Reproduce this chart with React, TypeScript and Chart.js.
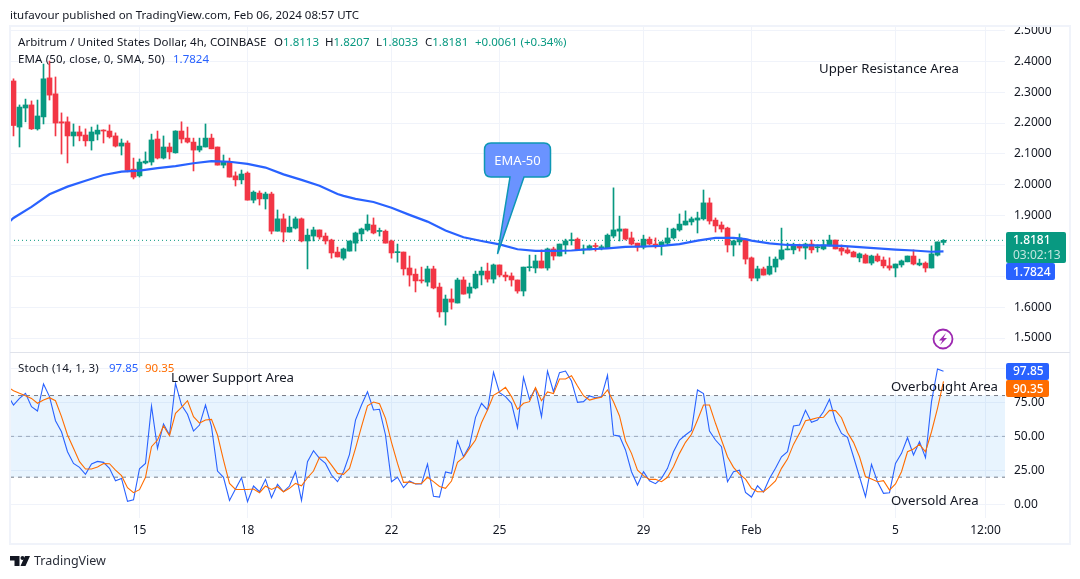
import { useRef, useEffect } from 'react';
import Chart from 'chart.js/auto';

const UP = '#089981';
const DOWN = '#f23645';
const FONT = "'Noto Sans', sans-serif";

// 4h candles, one entry per bar
const opens = [
  2.337, 2.187, 2.249, 2.259, 2.181, 2.220, 2.347, 2.295, 2.204, 2.204,
  2.158, 2.171, 2.161, 2.142, 2.164, 2.177, 2.174, 2.158, 2.125, 2.135,
  2.050, 2.028, 2.070, 2.073, 2.148, 2.086, 2.122, 2.103, 2.174, 2.151,
  2.138, 2.112, 2.122, 2.151, 2.122, 2.063, 2.073, 2.028, 2.015, 2.037,
  1.949, 1.972, 1.953, 1.969, 1.848, 1.888, 1.845, 1.858, 1.888, 1.816,
  1.832, 1.852, 1.832, 1.819, 1.780, 1.760, 1.783, 1.809, 1.839, 1.852,
  1.868, 1.847, 1.848, 1.816, 1.778, 1.780, 1.728, 1.708, 1.689, 1.682,
  1.725, 1.666, 1.585, 1.627, 1.614, 1.689, 1.646, 1.663, 1.705, 1.718,
  1.692, 1.738, 1.705, 1.702, 1.689, 1.653, 1.729, 1.728, 1.751, 1.728,
  1.790, 1.767, 1.803, 1.817, 1.822, 1.787, 1.787, 1.800, 1.794, 1.793,
  1.832, 1.848, 1.855, 1.826, 1.809, 1.796, 1.822, 1.806, 1.803, 1.809,
  1.826, 1.852, 1.868, 1.878, 1.884, 1.888, 1.940, 1.884, 1.868, 1.858,
  1.803, 1.813, 1.822, 1.761, 1.695, 1.725, 1.708, 1.731, 1.757, 1.787,
  1.787, 1.803, 1.793, 1.806, 1.794, 1.790, 1.800, 1.819, 1.793, 1.787,
  1.780, 1.761, 1.770, 1.744, 1.767, 1.754, 1.735, 1.728, 1.738, 1.748,
  1.767, 1.738, 1.744, 1.728, 1.770, 1.8113,
];
const highs = [
  2.344, 2.259, 2.278, 2.272, 2.275, 2.392, 2.402, 2.350, 2.233, 2.220,
  2.197, 2.190, 2.181, 2.187, 2.194, 2.178, 2.194, 2.168, 2.148, 2.142,
  2.086, 2.083, 2.106, 2.164, 2.174, 2.158, 2.135, 2.175, 2.204, 2.187,
  2.151, 2.151, 2.197, 2.164, 2.122, 2.096, 2.086, 2.041, 2.047, 2.041,
  1.979, 1.979, 1.975, 1.975, 1.917, 1.904, 1.897, 1.894, 1.891, 1.855,
  1.861, 1.852, 1.842, 1.822, 1.796, 1.793, 1.816, 1.845, 1.858, 1.901,
  1.891, 1.858, 1.852, 1.819, 1.806, 1.780, 1.767, 1.725, 1.731, 1.734,
  1.734, 1.679, 1.640, 1.660, 1.695, 1.699, 1.679, 1.718, 1.731, 1.744,
  1.741, 1.738, 1.715, 1.712, 1.689, 1.731, 1.770, 1.770, 1.787, 1.793,
  1.796, 1.806, 1.822, 1.842, 1.826, 1.803, 1.803, 1.809, 1.803, 1.839,
  1.989, 1.897, 1.855, 1.845, 1.809, 1.835, 1.829, 1.826, 1.813, 1.858,
  1.858, 1.904, 1.914, 1.894, 1.910, 1.982, 1.956, 1.891, 1.878, 1.861,
  1.819, 1.839, 1.822, 1.764, 1.734, 1.731, 1.764, 1.764, 1.858, 1.809,
  1.809, 1.806, 1.809, 1.819, 1.803, 1.819, 1.835, 1.819, 1.803, 1.796,
  1.783, 1.777, 1.774, 1.770, 1.774, 1.764, 1.761, 1.741, 1.754, 1.767,
  1.787, 1.757, 1.748, 1.800, 1.813, 1.8207,
];
const lows = [
  2.158, 2.122, 2.204, 2.179, 2.177, 2.197, 2.275, 2.158, 2.099, 2.070,
  2.125, 2.142, 2.125, 2.112, 2.145, 2.135, 2.151, 2.122, 2.096, 2.041,
  2.018, 2.024, 2.067, 2.063, 2.083, 2.083, 2.083, 2.102, 2.135, 2.135,
  2.044, 2.106, 2.122, 2.116, 2.063, 2.054, 2.024, 1.995, 2.002, 1.949,
  1.940, 1.933, 1.920, 1.839, 1.848, 1.813, 1.845, 1.855, 1.813, 1.725,
  1.816, 1.822, 1.806, 1.760, 1.764, 1.754, 1.783, 1.783, 1.816, 1.848,
  1.839, 1.832, 1.809, 1.760, 1.747, 1.705, 1.669, 1.650, 1.679, 1.669,
  1.660, 1.568, 1.542, 1.594, 1.614, 1.643, 1.630, 1.660, 1.673, 1.682,
  1.679, 1.699, 1.686, 1.669, 1.646, 1.637, 1.718, 1.712, 1.728, 1.721,
  1.754, 1.767, 1.774, 1.803, 1.787, 1.774, 1.787, 1.783, 1.787, 1.793,
  1.826, 1.816, 1.819, 1.803, 1.783, 1.790, 1.803, 1.793, 1.770, 1.803,
  1.822, 1.848, 1.868, 1.868, 1.842, 1.884, 1.871, 1.845, 1.845, 1.780,
  1.767, 1.803, 1.741, 1.686, 1.686, 1.705, 1.705, 1.715, 1.754, 1.787,
  1.774, 1.783, 1.757, 1.777, 1.780, 1.787, 1.800, 1.790, 1.770, 1.774,
  1.764, 1.748, 1.744, 1.738, 1.748, 1.728, 1.721, 1.699, 1.731, 1.748,
  1.738, 1.735, 1.715, 1.728, 1.767, 1.8033,
];
const closes = [
  2.192, 2.252, 2.259, 2.181, 2.223, 2.344, 2.291, 2.200, 2.200, 2.158,
  2.171, 2.158, 2.142, 2.171, 2.177, 2.174, 2.155, 2.125, 2.135, 2.046,
  2.024, 2.073, 2.076, 2.145, 2.086, 2.122, 2.106, 2.174, 2.148, 2.138,
  2.112, 2.125, 2.151, 2.116, 2.063, 2.073, 2.024, 2.015, 2.034, 1.949,
  1.975, 1.953, 1.969, 1.848, 1.888, 1.845, 1.861, 1.888, 1.816, 1.835,
  1.852, 1.829, 1.816, 1.777, 1.764, 1.790, 1.816, 1.842, 1.855, 1.871,
  1.842, 1.849, 1.809, 1.777, 1.780, 1.725, 1.705, 1.686, 1.686, 1.725,
  1.663, 1.585, 1.627, 1.617, 1.689, 1.643, 1.666, 1.708, 1.718, 1.692,
  1.738, 1.705, 1.699, 1.689, 1.653, 1.731, 1.731, 1.751, 1.728, 1.790,
  1.767, 1.806, 1.816, 1.819, 1.787, 1.789, 1.800, 1.798, 1.796, 1.835,
  1.852, 1.855, 1.822, 1.806, 1.796, 1.822, 1.806, 1.800, 1.813, 1.826,
  1.855, 1.871, 1.881, 1.888, 1.891, 1.940, 1.881, 1.865, 1.855, 1.803,
  1.816, 1.826, 1.757, 1.695, 1.725, 1.705, 1.734, 1.757, 1.787, 1.790,
  1.803, 1.793, 1.806, 1.787, 1.796, 1.803, 1.819, 1.790, 1.783, 1.777,
  1.764, 1.774, 1.744, 1.767, 1.751, 1.735, 1.728, 1.741, 1.751, 1.767,
  1.741, 1.744, 1.728, 1.774, 1.813, 1.8181,
];

// EMA 50, read every third bar
const emaBars = [
  -1, 0, 3, 6, 9, 12, 15, 18, 21, 24, 27, 30, 33, 36, 39, 42, 45, 48, 51, 54, 55, 57, 60, 63, 66, 69, 72,
  75, 78, 81, 84, 87, 90, 93, 96, 99, 102, 105, 108, 111, 114, 117, 120, 122, 123, 126, 129, 132, 135,
  138, 141, 144, 147, 150, 153, 155,
];
const emaValues = [
  1.873, 1.891, 1.927, 1.968, 1.993, 2.012, 2.031, 2.042, 2.045, 2.053, 2.060, 2.069, 2.076, 2.074, 2.067,
  2.055, 2.033, 2.015, 1.996, 1.969, 1.963, 1.953, 1.943, 1.924, 1.901, 1.879, 1.850, 1.828, 1.816, 1.805,
  1.789, 1.784, 1.784, 1.785, 1.789, 1.792, 1.797, 1.798, 1.800, 1.806, 1.817, 1.826, 1.826, 1.822, 1.817,
  1.808, 1.803, 1.802, 1.802, 1.800, 1.796, 1.792, 1.788, 1.785, 1.781, 1.7824,
];

// Stochastic, first entry is the bar just left of the pane edge
const stochK = [
  80.4, 73.0, 77.9, 81.6, 71.8, 68.6, 88.5, 79.2, 61.5, 53.4, 38.7, 30.1, 27.2, 22.1, 29.7, 31.6, 30.9, 26.5, 17.4, 19.1,
  2.2, 3.4, 26.2, 30.1, 72.3, 41.2, 59.1, 51.0, 89.0, 73.0, 66.2, 53.9, 58.3, 73.0, 57.1, 24.5, 19.9, 2.9, 11.3, 19.6,
  2.0, 13.5, 9.3, 18.4, 4.9, 14.7, 9.3, 13.5, 24.0, 2.9, 31.4, 39.5, 33.8, 30.1, 21.6, 16.7,
  24.0, 36.8, 62.0, 73.0, 82.8, 69.4, 69.9, 51.0, 16.7, 19.9, 12.3, 17.2, 15.0, 15.0, 29.7, 5.9, 5.4, 23.8, 22.8, 46.6,
  35.0, 43.1, 64.0, 74.3, 69.4, 97.1, 82.1, 79.2, 74.3, 56.4, 93.4, 77.2, 85.3, 64.5, 98.0, 82.8, 96.8, 98.0, 90.7, 75.0,
  75.5, 79.7, 78.4, 79.2, 94.9, 51.0, 50.2, 40.0, 24.0, 14.2, 24.0, 17.4, 15.2, 19.1, 26.5, 38.7, 47.3,
  51.0, 54.4, 84.1, 81.4, 53.9, 47.3, 42.4, 16.7, 24.0, 25.2, 8.8, 5.4, 13.7, 9.1, 19.1, 26.5, 35.0, 38.7, 57.6, 58.3,
  69.1, 60.3, 62.0, 68.1, 77.2, 61.3, 52.2, 49.3, 35.0, 20.3, 5.6, 29.4, 16.7, 8.1, 8.6, 30.1, 37.5, 49.0, 36.3, 46.1,
  34.3, 75.5, 99.5, 97.85,
];
const stochD = [
  86.5, 83.6, 81.6, 79.9, 77.9, 74.3, 76.7, 78.4, 76.2, 64.5, 51.0, 41.2, 31.4, 26.0, 26.0, 27.5, 30.1, 29.9, 25.2, 21.1,
  12.3, 8.6, 10.8, 19.9, 42.4, 47.3, 57.6, 50.5, 66.9, 71.3, 76.2, 64.5, 59.8, 62.0, 62.5, 51.0, 32.6, 15.4, 11.0, 11.0,
  11.0, 11.3, 8.6, 13.5, 11.0, 13.0, 9.3, 11.8, 15.4, 13.7, 19.6, 24.5, 34.6, 34.6, 28.9, 22.8,
  22.1, 26.5, 41.2, 57.1, 72.5, 75.2, 74.0, 63.2, 45.6, 30.1, 16.2, 16.4, 15.2, 15.4, 19.9, 16.7, 13.2, 11.8, 17.2, 30.9,
  34.6, 41.2, 47.3, 60.0, 69.4, 80.1, 82.8, 86.0, 79.2, 69.9, 74.3, 75.5, 85.8, 76.2, 82.6, 81.4, 92.2, 92.2, 94.6, 87.0,
  79.9, 76.7, 77.9, 78.7, 84.1, 75.5, 65.0, 46.6, 37.5, 25.2, 21.1, 18.4, 18.4, 16.7, 19.9, 27.7, 37.5,
  45.6, 51.5, 62.0, 73.0, 73.0, 59.6, 47.3, 35.0, 27.2, 22.3, 18.6, 11.8, 9.3, 9.3, 13.0, 17.2, 26.5, 33.3, 44.1, 52.2,
  61.5, 62.5, 63.7, 64.0, 69.1, 68.9, 63.7, 52.9, 45.6, 35.0, 20.3, 18.6, 16.7, 17.4, 10.5, 15.0, 24.0, 38.7, 40.7, 44.1,
  38.7, 53.4, 70.6, 90.35,
];

// time axis, bar index -> label
const timeTickBars = [21, 39, 63, 81, 105, 123, 147, 162];
const timeTickLabels = ['15', '18', '22', '25', '29', 'Feb', '5', '12:00'];

const priceTicks = [1.5, 1.6, 1.7, 1.8, 1.9, 2.0, 2.1, 2.2, 2.3, 2.4, 2.5];
const stochTicks = [0, 25, 50, 75, 100];

const xMin = -0.5833;
const xMax = 165.25;
const lastClose = closes[closes.length - 1];

function Label({ x, y, size = 11.5, color = '#131722', center = false, children, style }: any) {
  return (
    <div style={{
      position: 'absolute', left: x, top: y, fontFamily: FONT, fontSize: size, color, lineHeight: '16px',
      whiteSpace: 'pre', transform: center ? 'translate(-50%, -50%)' : 'translateY(-50%)', ...style,
    }}>{children}</div>
  );
}

function Tag({ x, y, w, h, bg }: any) {
  return <div style={{ position: 'absolute', left: x, top: y, width: w, height: h, background: bg, borderRadius: 2 }}></div>;
}

export default function App() {
  const canvasRef = useRef<HTMLCanvasElement>(null);

  useEffect(() => {
    document.body.style.margin = '0';
    if (!canvasRef.current) return;

    const colors = closes.map((c, i) => (c >= opens[i] ? UP : DOWN));
    const stochLine = (values: number[], color: string) => ({
      type: 'line', yAxisID: 'yS', order: 0, borderColor: color, borderWidth: 1.1, pointRadius: 0,
      data: values.map((v, i) => ({ x: i - 1, y: v })),
    });
    const level = (value: number, extra: any) => ({
      type: 'line', yAxisID: 'yS', order: 5, borderColor: '#787b86', borderWidth: 1, borderDash: [4, 4], pointRadius: 0,
      data: [{ x: xMin, y: value }, { x: xMax, y: value }], ...extra,
    });

    const frame = {
      id: 'frame',
      afterDraw(c: any) {
        const ctx = c.ctx;
        ctx.save();
        // the top price label is cut by the frame
        ctx.fillStyle = '#fff';
        ctx.fillRect(1006, 0, 74, 27);
        ctx.strokeStyle = '#f0f3fa';
        ctx.lineWidth = 2;
        ctx.strokeRect(10, 26, 1060, 518);
        ctx.strokeStyle = '#e0e3eb';
        ctx.lineWidth = 1;
        ctx.beginPath();
        ctx.moveTo(10, 352.5);
        ctx.lineTo(1070, 352.5);
        ctx.stroke();
        ctx.restore();
      },
    };

    const chart = new Chart(canvasRef.current, {
      type: 'bar',
      plugins: [frame],
      data: {
        datasets: [
          { type: 'line', yAxisID: 'y', order: 0, borderColor: '#2962ff', borderWidth: 2.2, pointRadius: 0,
            data: emaBars.map((b, i) => ({ x: b, y: emaValues[i] })) },
          { type: 'bar', yAxisID: 'y', order: 1, grouped: false, barThickness: 5, minBarLength: 1, backgroundColor: colors,
            data: opens.map((o, i) => ({ x: i, y: [o, closes[i]] })) },
          { type: 'bar', yAxisID: 'y', order: 2, grouped: false, barThickness: 1, backgroundColor: colors,
            data: lows.map((l, i) => ({ x: i, y: [l, highs[i]] })) },
          { type: 'line', yAxisID: 'y', order: 3, borderColor: UP, borderWidth: 1, borderDash: [1, 3], pointRadius: 0,
            data: [{ x: xMin, y: lastClose }, { x: xMax, y: lastClose }] },
          stochLine(stochD, '#ff6d00'),
          stochLine(stochK, '#2962ff'),
          level(80, { fill: { value: 20 }, backgroundColor: 'rgba(33,150,243,0.1)' }),
          level(50, { borderColor: 'rgba(120,123,134,0.6)' }),
          level(20, {}),
        ],
      } as any,
      options: {
        responsive: false,
        animation: false,
        events: [],
        layout: { autoPadding: false, padding: { left: 10, top: 26, right: 10, bottom: 35 } },
        plugins: { legend: { display: false }, tooltip: { enabled: false } },
        scales: {
          x: {
            type: 'linear', min: xMin, max: xMax, offset: false,
            grid: { color: '#f0f3fa', drawTicks: false, offset: false },
            border: { display: false },
            afterBuildTicks(scale: any) { scale.ticks = timeTickBars.map((v) => ({ value: v })); },
            afterFit(scale: any) { scale.height = 26; },
            ticks: {
              autoSkip: false, maxRotation: 0, padding: 5, color: '#131722', font: { family: FONT, size: 12 },
              callback: (v: any) => timeTickLabels[timeTickBars.indexOf(v)],
            },
          },
          y: {
            position: 'right', stack: 'panes', stackWeight: 326, min: 1.4545, max: 2.516,
            grid: { color: '#f0f3fa', drawTicks: false },
            border: { display: false },
            afterBuildTicks(scale: any) { scale.ticks = priceTicks.map((v) => ({ value: v })); },
            afterFit(scale: any) { scale.width = 65; },
            ticks: { autoSkip: false, padding: 9, color: '#131722', font: { family: FONT, size: 12 }, callback: (v: any) => Number(v).toFixed(4) },
          },
          yS: {
            position: 'right', stack: 'panes', stackWeight: 166, min: -10, max: 112,
            grid: { color: '#f0f3fa', drawTicks: false },
            border: { display: false },
            afterBuildTicks(scale: any) { scale.ticks = stochTicks.map((v) => ({ value: v })); },
            afterFit(scale: any) { scale.width = 65; },
            ticks: {
              autoSkip: false, padding: 9, color: '#131722', font: { family: FONT, size: 12 },
              // 100 sits under the K value tag
              callback: (v: any) => (v === 100 ? '' : Number(v).toFixed(2)),
            },
          },
        },
      } as any,
    });

    return () => {
      chart.destroy();
    };
  }, []);

  return (
    <div style={{ position: 'relative', width: 1080, height: 579, overflow: 'hidden', background: '#fff' }}>
      <canvas ref={canvasRef} width={1080} height={579} style={{ display: 'block' }}></canvas>

      <Label x={10} y={15}>itufavour published on TradingView.com, Feb 06, 2024 08:57 UTC</Label>

      <Label x={18} y={42} style={{ letterSpacing: 0.03 }}>Arbitrum / United States Dollar, 4h, COINBASE</Label>
      <Label x={274} y={42}>O<span style={{ color: UP }}>1.8113</span></Label>
      <Label x={325} y={42}>H<span style={{ color: UP }}>1.8207</span></Label>
      <Label x={376} y={42}>L<span style={{ color: UP }}>1.8033</span></Label>
      <Label x={425} y={42}>C<span style={{ color: UP }}>1.8181</span></Label>
      <Label x={475} y={42} color={UP}>+0.0061 (+0.34%)</Label>
      <Label x={18} y={59} style={{ letterSpacing: 0.15 }}>EMA (50, close, 0, SMA, 50)</Label>
      <Label x={173} y={59} color="#2962ff">1.7824</Label>
      <Label x={18} y={368} style={{ letterSpacing: 0.15 }}>Stoch (14, 1, 3)</Label>
      <Label x={109} y={368} color="#2962ff">97.85</Label>
      <Label x={145} y={368} color="#ff6d00">90.35</Label>

      <Label x={819} y={68} size={13.2}>Upper Resistance Area</Label>
      <Label x={171} y={377} size={13.2}>Lower Support Area</Label>
      <Label x={891} y={386} size={13.2}>Overbought Area</Label>
      <Label x={891} y={500} size={13.2}>Oversold Area</Label>

      <svg width={1080} height={579} style={{ position: 'absolute', left: 0, top: 0 }}>
        <path d="M491 143 H544 Q550.5 143 550.5 150 V170 Q550.5 177 544 177 H524 L497.5 254 L510 177 H491 Q484.5 177 484.5 170 V150 Q484.5 143 491 143 Z"
          fill="#6a93ff" stroke="#0e97b5" strokeWidth={1.5} />
        <circle cx={943} cy={339} r={9.5} fill="none" stroke="#9c27b0" strokeWidth={1.8} />
        <path d="M946 333 L939 340.5 H942.5 L940 345 L947 338 H943.5 Z" fill="#9c27b0" />
        {/* TradingView mark */}
        <path d="M10 556 H19.5 V566 H14.5 V560.5 H10 Z M25 556 H30 L25.5 566 H20.5 Z" fill="#131722" />
        <circle cx={22.5} cy={558} r={2} fill="#131722" />
      </svg>
      <Label x={517.5} y={159.5} size={13} color="#fff" center>EMA-50</Label>

      <Label x={34} y={561} size={12.5} color="#2a2e39">TradingView</Label>

      <Tag x={1006} y={232} w={60} h={31} bg={UP} />
      <Label x={1013} y={240} size={12} color="#fff" style={{ fontWeight: 500 }}>1.8181</Label>
      <Label x={1013} y={255} size={12} color="rgba(255,255,255,0.75)">03:02:13</Label>
      <Tag x={1006} y={263} w={49} h={17} bg="#2962ff" />
      <Label x={1013} y={272} size={12} color="#fff" style={{ fontWeight: 500 }}>1.7824</Label>
      <Tag x={1006} y={363} w={43} h={17} bg="#2962ff" />
      <Label x={1013} y={371} size={12} color="#fff" style={{ fontWeight: 500 }}>97.85</Label>
      <Tag x={1006} y={380} w={43} h={17} bg="#ff6d00" />
      <Label x={1013} y={389} size={12} color="#fff" style={{ fontWeight: 500 }}>90.35</Label>
    </div>
  );
}
